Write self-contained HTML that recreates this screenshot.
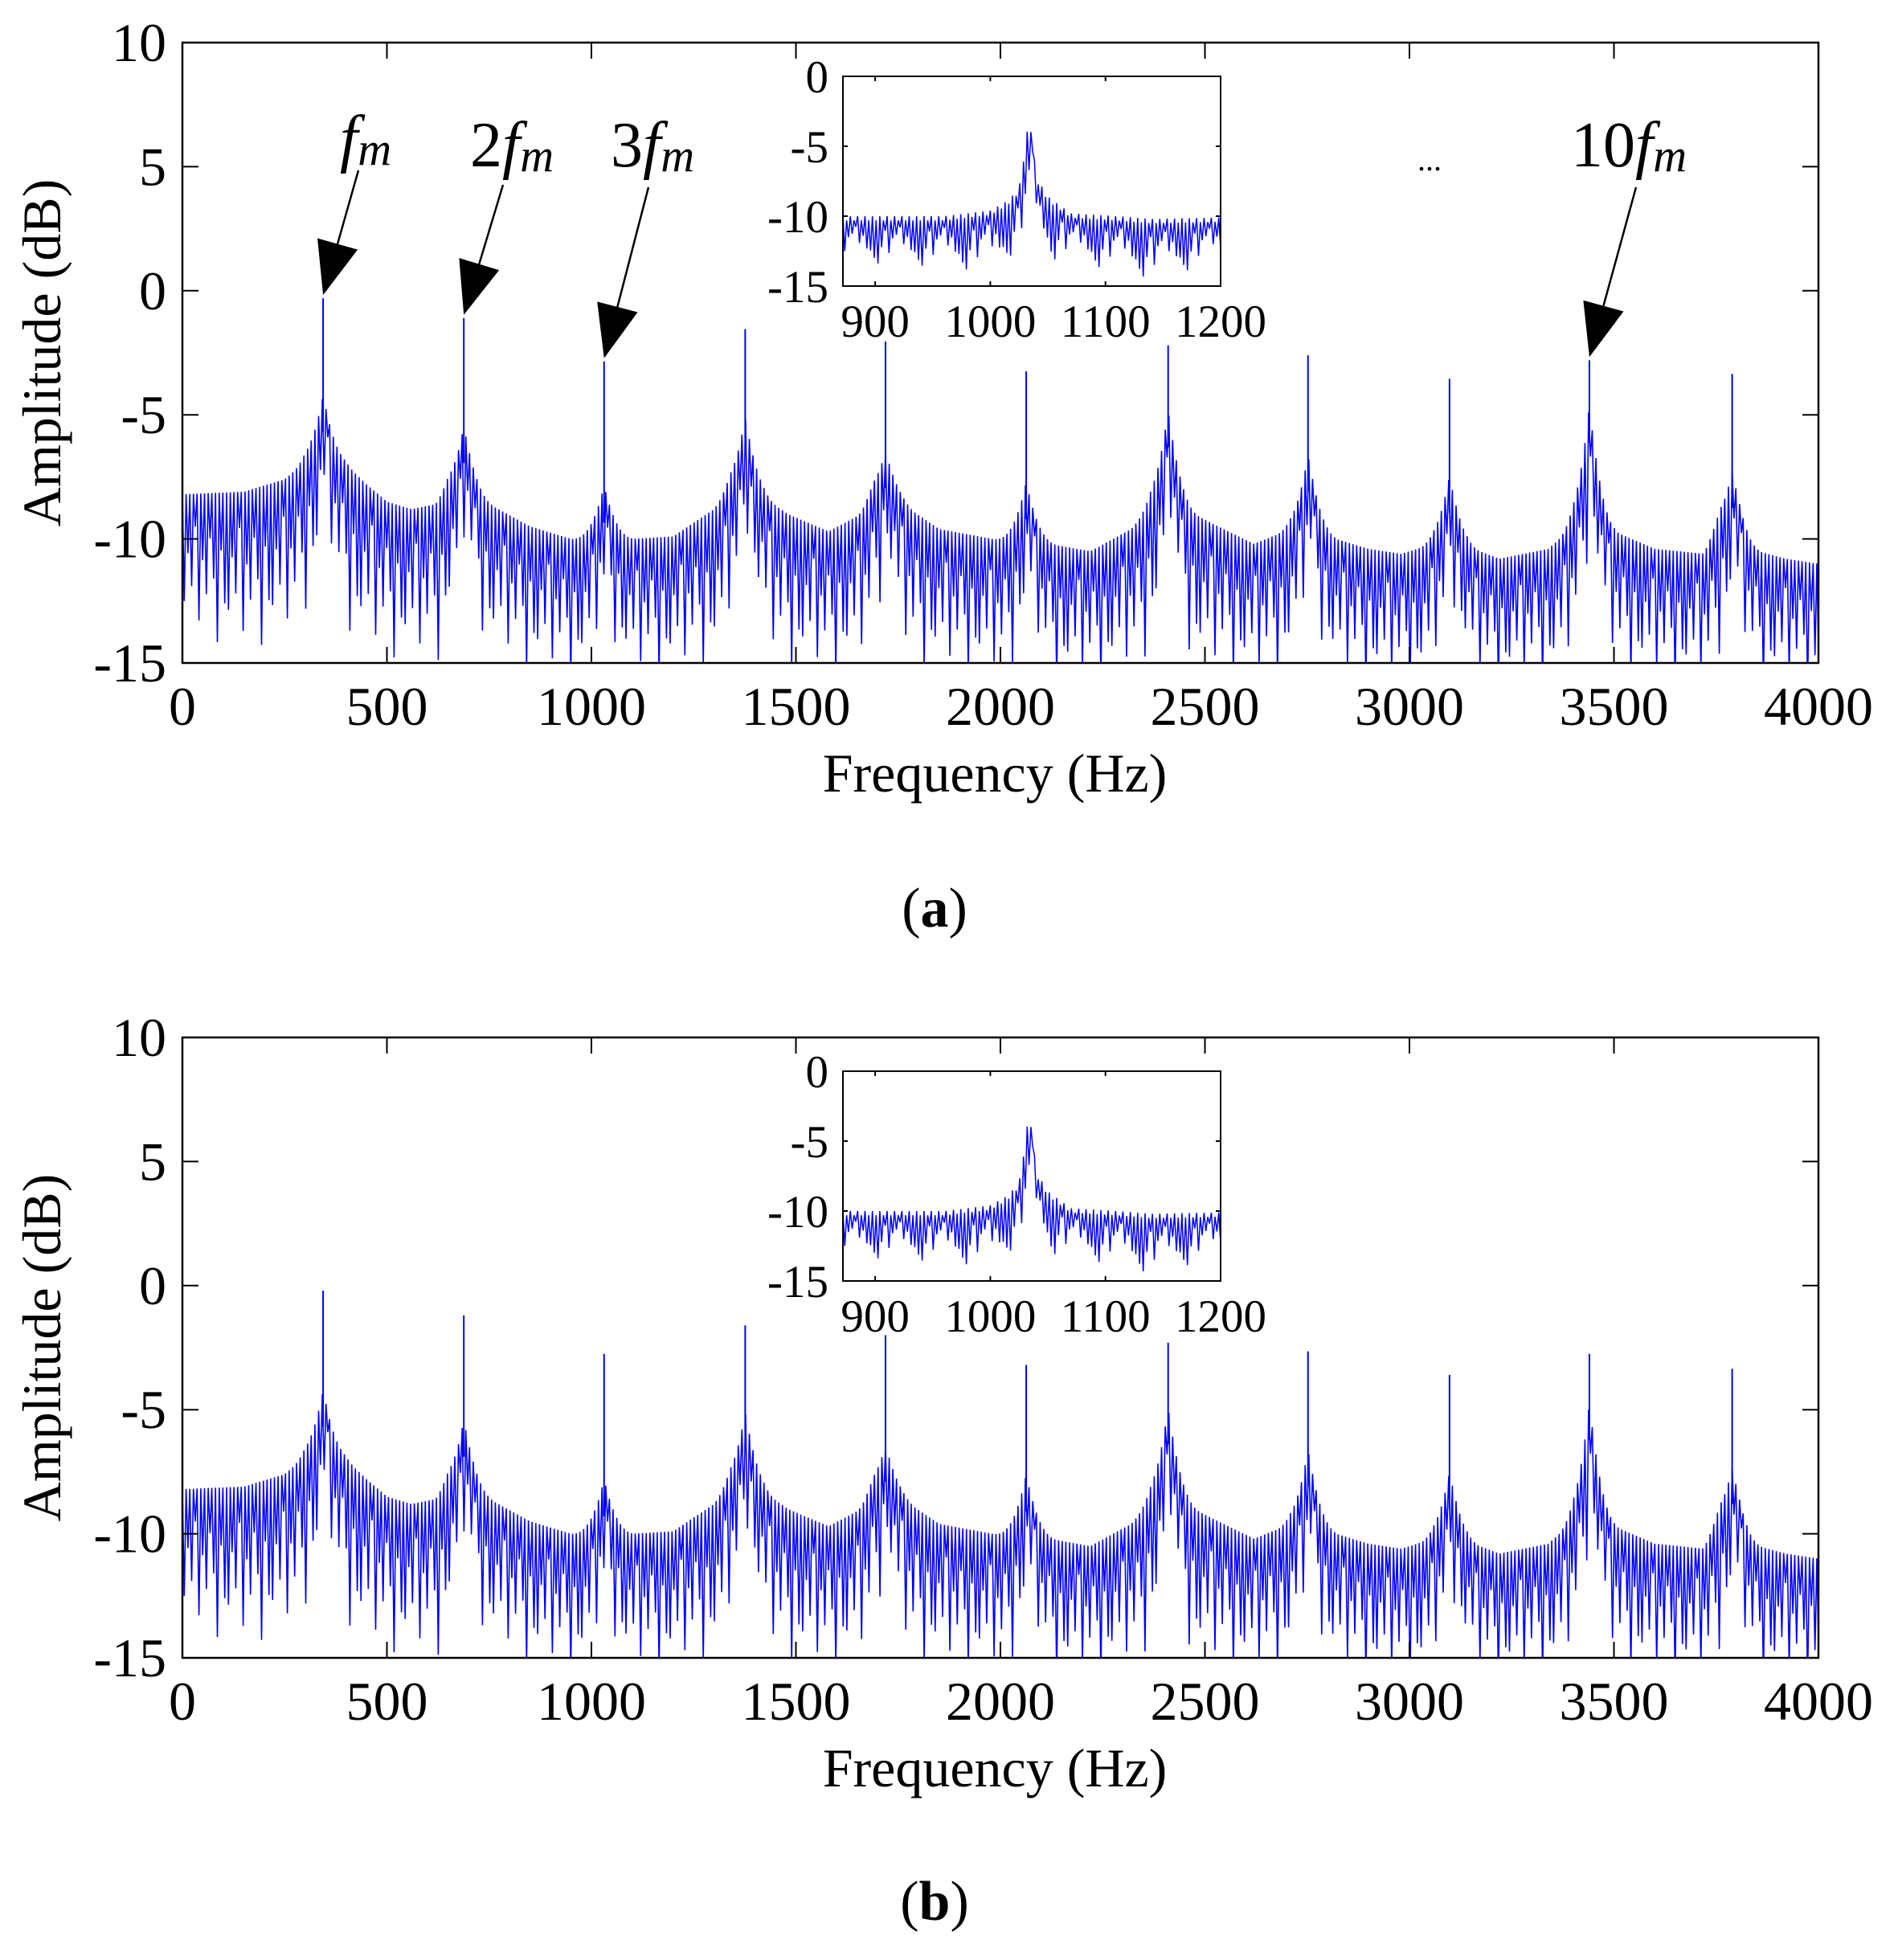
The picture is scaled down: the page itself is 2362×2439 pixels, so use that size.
<!DOCTYPE html>
<html><head><meta charset="utf-8">
<style>
html,body{margin:0;padding:0;background:#fff;}
svg{display:block;}
text{font-family:"Liberation Serif",serif;fill:#000;}
</style></head>
<body>
<svg id="fig" width="2362" height="2439" viewBox="0 0 2362 2439" xmlns="http://www.w3.org/2000/svg"></svg>
<script>
// ---- data ----
const xTicks = [0,500,1000,1500,2000,2500,3000,3500,4000];
const yTicks = [10,5,0,-5,-10,-15];
const insetXTicks = [900,1000,1100,1200];
const insetYTicks = [0,-5,-10,-15];
const harmFreqs = [344,688,1031,1376,1719,2063,2410,2752,3098,3440,3789];
const peakA = [-0.3,-1.1,-2.85,-1.55,-2.05,-3.25,-2.2,-2.6,-3.55,-2.8,-3.35];
const peakB = [-0.2,-1.2,-2.75,-1.6,-2.0,-3.2,-2.3,-2.65,-3.6,-2.75,-3.35];
const humpA = [-4.2,-5.45,-7.85,-5.1,-6.45,-7.7,-4.8,-6.6,-7.45,-4.6,-7.25];
const humpB = [-4.2,-5.4,-7.8,-5.1,-6.4,-7.6,-4.9,-6.6,-7.5,-4.7,-7.3];
// upper envelope of the noise floor (between harmonics)
const envFreqs = [0,150,250,300,400,450,500,560,620,650,750,850,950,1100,1200,1300,1340,1420,1480,1580,1660,1690,1760,1850,1980,2120,2220,2320,2370,2450,2520,2620,2710,2800,2900,2980,3060,3140,3220,3340,3400,3500,3600,3720,3760,3830,3920,4000];
const envUpper = [-8.2,-8.1,-7.6,-6.9,-7.0,-7.8,-8.5,-8.8,-8.6,-8.0,-8.6,-9.5,-10.0,-10.0,-9.9,-8.8,-8.0,-8.3,-9.0,-9.7,-9.0,-8.3,-8.6,-9.6,-10.0,-10.2,-10.5,-9.6,-8.6,-8.8,-9.4,-10.2,-9.6,-9.9,-10.4,-10.6,-10.2,-10.3,-10.8,-10.4,-9.5,-9.7,-10.4,-10.6,-9.5,-10.4,-10.8,-11.0];
const envLower = [-12.5,-13.0,-12.5,-11.8,-12.2,-13.0,-13.3,-13.5,-13.5,-12.5,-13.2,-14.0,-14.3,-14.3,-14.2,-13.5,-12.5,-13.2,-13.8,-14.2,-13.6,-12.8,-13.6,-14.0,-14.3,-14.5,-14.6,-14.0,-13.2,-13.6,-14.0,-14.5,-14.0,-14.2,-14.6,-14.8,-14.4,-14.5,-14.8,-14.5,-13.8,-14.0,-14.6,-14.7,-14.0,-14.6,-14.8,-14.9];
// inset (zoom around 3fm)
const insetEnvF = [872,960,1000,1015,1025,1034,1040,1050,1070,1110,1140,1200];
const insetUpper = [-10.0,-10.0,-9.6,-8.9,-8.0,-2.8,-7.2,-8.6,-9.8,-10.0,-10.2,-10.1];
const insetLower = [-12.5,-12.8,-13.0,-12.0,-11.0,-9.0,-10.5,-12.0,-12.5,-13.0,-13.5,-12.5];

const NS = "http://www.w3.org/2000/svg";
const svg = document.getElementById('fig');
function mk(tag, attrs, parent){
  const e = document.createElementNS(NS, tag);
  for (const k in attrs) e.setAttribute(k, attrs[k]);
  (parent||svg).appendChild(e);
  return e;
}
function interp(fs, vs, f){
  if (f<=fs[0]) return vs[0];
  for (let i=1;i<fs.length;i++){ if (f<=fs[i]){ const t=(f-fs[i-1])/(fs[i]-fs[i-1]); return vs[i-1]+t*(vs[i]-vs[i-1]); } }
  return vs[vs.length-1];
}
const depthPattern = [1.0,0.55,0.85,0.3,1.15,0.6,0.9,0.4,0.75,1.3,0.5,0.95];

function drawPanel(top, panelId, peaks, humps){
  const L=227, R=2263, T=top, B=top+772;
  const xs = f => L + (f/4000)*(R-L);
  const ys = v => T + ((10-v)/25)*(B-T);
  const g = mk('g',{});
  
  
  const cp = mk('clipPath',{id:'clip'+panelId}, g);
  mk('rect',{x:L,y:T,width:R-L,height:B-T}, cp);
  let pts=[];
  const step = 9;
  let k=0;
  for (let f=0; f<=4000; f+=step, k++){
    let up = interp(envFreqs, envUpper, f);
    let lo = interp(envFreqs, envLower, f);
    for (let h=0; h<harmFreqs.length; h++){
      const d = Math.abs(f-harmFreqs[h]);
      if (d<80){ const w=Math.pow(1-d/80,2.5); up = up + (humps[h]-up)*w; lo = lo + Math.max(0,(humps[h]-3.5-lo))*w; }
    }
    const fr = depthPattern[k%depthPattern.length];
    const lowV = Math.max(-16, up - (up-lo)*fr);
    pts.push(xs(f).toFixed(1)+','+ys(up).toFixed(1));
    pts.push(xs(f+step/2).toFixed(1)+','+ys(lowV).toFixed(1));
  }
  const line = mk('polyline',{points:pts.join(' '),fill:'none',stroke:'#0000ff','stroke-width':1.6,'clip-path':'url(#clip'+panelId+')'}, g);
  
  
  for (let h=0; h<harmFreqs.length; h++){
    const p = mk('line',{x1:xs(harmFreqs[h]),x2:xs(harmFreqs[h]),y1:ys(peaks[h]),y2:ys(humps[h]-1.5),stroke:'#0000ff','stroke-width':2}, g);
    
    
  }
  const box = mk('rect',{x:L,y:T,width:R-L,height:B-T,fill:'none',stroke:'#000','stroke-width':2.5}, g);
  
  
  const tl=20;
  xTicks.forEach(t=>{
    const x=xs(t);
    mk('line',{x1:x,x2:x,y1:B,y2:B-tl,stroke:'#000','stroke-width':2}, g);
    mk('line',{x1:x,x2:x,y1:T,y2:T+tl,stroke:'#000','stroke-width':2}, g);
    const tx = mk('text',{x:x,y:B+77,'font-size':68,'text-anchor':'middle'}, g);
    tx.textContent = t;
    
    
  });
  yTicks.forEach(t=>{
    const y=ys(t);
    mk('line',{x1:L,x2:L+tl,y1:y,y2:y,stroke:'#000','stroke-width':2}, g);
    mk('line',{x1:R,x2:R-tl,y1:y,y2:y,stroke:'#000','stroke-width':2}, g);
    const tx = mk('text',{x:207,y:y+23,'font-size':68,'text-anchor':'end'}, g);
    tx.textContent = t;
    
    
  });
  const xl = mk('text',{x:1238,y:B+160,'font-size':68,'text-anchor':'middle'}, g);
  xl.textContent = 'Frequency (Hz)';
  
  
  const yl = mk('text',{x:0,y:0,'font-size':68,'text-anchor':'middle',transform:'translate(75,'+(T+386)+') rotate(-90)'}, g);
  yl.textContent = 'Amplitude (dB)';
  
  

  // inset
  const IL=1049, IR=1519, IT=T+42, IB=T+303;
  const ixs = f => IL + ((f-872)/(1200-872))*(IR-IL);
  const iys = v => IT + ((0-v)/15)*(IB-IT);
  const ig = mk('g',{}, g);
  
  
  mk('rect',{x:IL,y:IT,width:IR-IL,height:IB-IT,fill:'#fff'}, ig);
  const icp = mk('clipPath',{id:'iclip'+panelId}, ig);
  mk('rect',{x:IL,y:IT,width:IR-IL,height:IB-IT+4}, icp);
  let ip=[]; k=0;
  for (let f=872; f<=1200; f+=3.2, k++){
    const up = interp(insetEnvF, insetUpper, f);
    const lo = interp(insetEnvF, insetLower, f);
    const fr = depthPattern[(k*5)%depthPattern.length];
    ip.push(ixs(f).toFixed(1)+','+iys(up - (k%2?0.3:0)).toFixed(1));
    ip.push(ixs(f+1.6).toFixed(1)+','+iys(Math.max(-15.5, up-(up-lo)*fr)).toFixed(1));
  }
  const il = mk('polyline',{points:ip.join(' '),fill:'none',stroke:'#0000ff','stroke-width':1.5,'clip-path':'url(#iclip'+panelId+')'}, ig);
  
  
  mk('rect',{x:IL,y:IT,width:IR-IL,height:IB-IT,fill:'none',stroke:'#000','stroke-width':2}, ig);
  insetXTicks.forEach(t=>{
    const x=ixs(t);
    mk('line',{x1:x,x2:x,y1:IB,y2:IB-6,stroke:'#000','stroke-width':2}, ig);
    mk('line',{x1:x,x2:x,y1:IT,y2:IT+6,stroke:'#000','stroke-width':2}, ig);
    const tx = mk('text',{x:x,y:IB+63,'font-size':57,'text-anchor':'middle'}, ig);
    tx.textContent = t;
    
    
  });
  insetYTicks.forEach(t=>{
    const y=iys(t);
    mk('line',{x1:IL,x2:IL+6,y1:y,y2:y,stroke:'#000','stroke-width':2}, ig);
    mk('line',{x1:IR,x2:IR-6,y1:y,y2:y,stroke:'#000','stroke-width':2}, ig);
    const tx = mk('text',{x:1031,y:y+20,'font-size':57,'text-anchor':'end'}, ig);
    tx.textContent = t;
    
    
  });
  return {xs, ys};
}

const A = drawPanel(53, 'a', peakA, humpA);
drawPanel(1291, 'b', peakB, humpB);

const annotations = [
  {parts:['','f','m'], tx:423, ty:199, lx:446, ly:212, h:0},
  {parts:['2','f','m'], tx:585, ty:207, lx:626, ly:230, h:1},
  {parts:['3','f','m'], tx:760, ty:207, lx:807, ly:233, h:2},
  {parts:['10','f','m'], tx:1955, ty:207, lx:2036, ly:233, h:9}
];
annotations.forEach(a=>{
  const t = mk('text',{x:a.tx,y:a.ty,'font-size':80});
  
  
  const s1 = mk('tspan',{},t); s1.textContent=a.parts[0];
  const s2 = mk('tspan',{'font-style':'italic'},t); s2.textContent=a.parts[1];
  const s3 = mk('tspan',{'font-style':'italic','font-size':58,dy:6},t); s3.textContent=a.parts[2];
  const tipX = A.xs(harmFreqs[a.h]), tipY = A.ys(peakA[a.h]) - 4;
  const dx = tipX-a.lx, dy = tipY-a.ly, len=Math.hypot(dx,dy);
  const ux=dx/len, uy=dy/len, hl=66, hw=26;
  const bx=tipX-ux*hl, by=tipY-uy*hl;
  const ln = mk('line',{x1:a.lx,y1:a.ly,x2:bx,y2:by,stroke:'#000','stroke-width':2.5});
  
  
  const hd = mk('polygon',{points:`${tipX},${tipY} ${bx-uy*hw},${by+ux*hw} ${bx+uy*hw},${by-ux*hw}`,fill:'#000'});
  
  
});
const dots = mk('text',{x:1779,y:212,'font-size':40,'text-anchor':'middle'});
dots.textContent='...';



[['a',1153],['b',2389]].forEach(p=>{
  const t = mk('text',{x:1163,y:p[1],'font-size':70,'text-anchor':'middle'});
  
  
  const s1=mk('tspan',{},t); s1.textContent='(';
  const s2=mk('tspan',{'font-weight':'bold'},t); s2.textContent=p[0];
  const s3=mk('tspan',{},t); s3.textContent=')';
});
</script>
</body></html>
